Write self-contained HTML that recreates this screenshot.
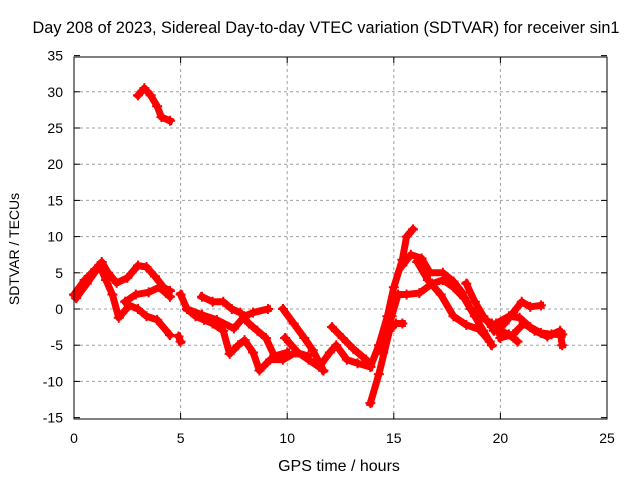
<!DOCTYPE html>
<html><head><meta charset="utf-8"><style>
body{margin:0;background:#fff}
svg{display:block;font-family:"Liberation Sans",sans-serif;font-size:14px}
</style></head><body>
<svg width="640" height="480">
<g id="grid"></g>
<g id="series"></g>
<rect x="74" y="57" width="533" height="362" fill="none" stroke="#000" stroke-width="1"/>
<g id="ticks"></g>
<text x="326" y="33" text-anchor="middle" style="font-size:16.3px">Day 208 of 2023, Sidereal Day-to-day VTEC variation (SDTVAR) for receiver sin1</text>
<text x="339" y="471" text-anchor="middle" style="font-size:16px">GPS time / hours</text>
<text transform="translate(19,249) rotate(-90)" text-anchor="middle" style="font-size:14px">SDTVAR / TECUs</text>
</svg>
<script>
const xTicks=[0,5,10,15,20,25];
const yTicks=[35,30,25,20,15,10,5,0,-5,-10,-15];
const track1=[[3.0,29.5],[3.3,30.5],[3.6,29.5],[3.9,28],[4.1,26.5],[4.5,26]];
const track2=[[0,2],[0.5,4],[1.0,5.5],[1.3,6.5],[1.6,5],[2.0,3.6],[2.5,4.3],[3.0,6],[3.4,5.8],[3.8,4.5],[4.2,3],[4.5,2.5]];
const track3=[[0.1,1.5],[0.6,3.5],[1.2,6],[1.5,4],[1.8,2],[2.1,-1.2],[2.6,0.5],[3.0,0],[3.4,-1],[3.9,-1.5],[4.5,-3.6]];
const track4=[[2.4,1],[2.9,2],[3.5,2.3],[4.0,3],[4.5,1.7]];
const track5=[[4.9,-3.8],[5.0,-4.5]];
const track6=[[5.0,2],[5.3,0],[5.7,-1],[6.1,-1.5],[6.5,-2],[7.0,-3],[7.3,-6.2],[7.7,-5],[8.0,-4.3],[8.4,-6],[8.7,-8.5],[9.2,-7],[9.8,-7],[10.4,-6],[11.0,-6.5]];
const track7=[[5.3,0],[6.0,-0.8],[6.7,-1.5],[7.5,-2.7],[8.0,-1],[8.4,-0.5],[9.1,0]];
const track8=[[6.0,1.7],[6.5,1],[7.0,1],[7.4,0],[7.8,-0.5],[8.2,-2],[8.6,-3],[9.0,-4],[9.4,-6.5],[10.0,-6]];
const track9=[[9.8,0],[10.3,-2],[10.8,-4],[11.2,-5.7],[11.7,-8.5]];
const track10=[[9.9,-4],[10.5,-6],[11.0,-7],[11.5,-8],[12.0,-6],[12.3,-5],[12.8,-7],[13.3,-7.5],[13.9,-8]];
const track11=[[12.1,-2.5],[12.6,-4],[13.1,-5.5],[13.7,-7]];
const track12=[[13.9,-8],[14.3,-5],[14.7,-1],[15.0,3],[15.4,6.8],[15.6,10],[15.9,11]];
const track13=[[13.9,-13],[14.3,-9],[14.8,-3],[15.1,-2],[15.4,-2]];
const track14=[[14.5,-6],[14.9,-1],[15.2,2],[15.6,2],[16.2,2.2],[16.8,3.5],[17.3,4],[17.8,3],[18.3,1.5],[18.8,-1],[19.2,-3],[19.6,-5]];
const track15=[[15.4,6],[15.8,7.5],[16.3,7],[16.7,5],[17.3,5],[17.8,3.8],[18.2,2.3],[18.6,0],[19.0,-1],[19.6,-2],[20.0,-3.5]];
const track16=[[16.1,6.5],[16.6,4],[17.2,2],[17.8,-1],[18.4,-2.2],[19.0,-2.8],[19.5,-4.5]];
const track17=[[18.4,3.5],[18.8,1],[19.2,-1],[19.6,-2.5],[20.0,-3],[20.4,-3.5],[20.8,-4.5]];
const track18=[[19.7,-3],[20.2,-2],[20.6,-0.5],[21.0,1],[21.4,0.3],[21.9,0.5]];
const track19=[[19.8,-2],[20.4,-1],[20.9,-1.2],[21.4,-2.5],[21.9,-3.3],[22.4,-3.5],[22.9,-3.5]];
const track20=[[20.0,-4],[20.6,-3.5],[21.1,-2],[21.6,-3],[22.2,-3.8],[22.8,-3],[22.9,-5]];
const tracks=[track1,track2,track3,track4,track5,track6,track7,track8,track9,track10,track11,track12,track13,track14,track15,track16,track17,track18,track19,track20];
const X=v=>74+v*(533/25), Y=v=>309-v*7.24;
const NS='http://www.w3.org/2000/svg';
const grid=document.getElementById('grid'),ticks=document.getElementById('ticks'),ser=document.getElementById('series');
function mk(tag,at,parent){const e=document.createElementNS(NS,tag);for(const k in at)e.setAttribute(k,at[k]);parent.appendChild(e);return e;}
xTicks.forEach(t=>{const x=X(t);
 if(t>0&&t<25){const g=mk('line',{x1:x,x2:x,y1:57,y2:419,stroke:'#a0a0a0','stroke-dasharray':'3,3'},grid);}
 const a=mk('line',{x1:x,x2:x,y1:419,y2:413,stroke:'#000'},ticks);
 const b=mk('line',{x1:x,x2:x,y1:57,y2:63,stroke:'#000'},ticks);
 const l=mk('text',{x:x,y:443,'text-anchor':'middle'},ticks);l.textContent=t;});
yTicks.forEach(t=>{const y=Y(t);
 if(t<35&&t>-15){const g=mk('line',{x1:74,x2:607,y1:y,y2:y,stroke:'#a0a0a0','stroke-dasharray':'3,3'},grid);}
 const a=mk('line',{x1:74,x2:80,y1:y,y2:y,stroke:'#000'},ticks);
 const b=mk('line',{x1:601,x2:607,y1:y,y2:y,stroke:'#000'},ticks);
 const l=mk('text',{x:63,y:y+5,'text-anchor':'end'},ticks);l.textContent=t;});
tracks.forEach((tr,i)=>{
 const p=mk('polyline',{points:tr.map(d=>X(d[0])+','+Y(d[1])).join(' '),fill:'none',stroke:'#ff0000','stroke-width':7,'stroke-linejoin':'round','stroke-linecap':'square'},ser);
 
 
 tr.forEach(d=>{const x=X(d[0]),y=Y(d[1]);
  const m=mk('path',{d:`M${x-5},${y}h10M${x},${y-5}v10`,stroke:'#ff0000','stroke-width':2},ser);
  
  });
});
</script>
</body></html>
